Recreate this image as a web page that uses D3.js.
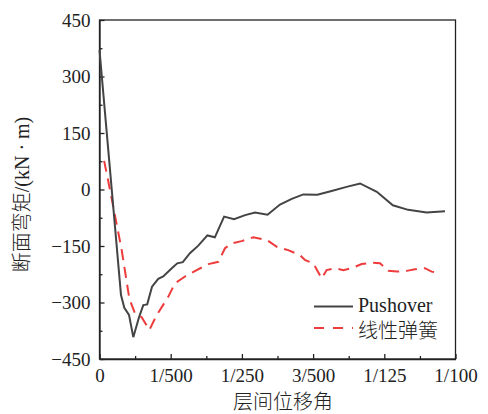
<!DOCTYPE html>
<html><head><meta charset="utf-8">
<script src="https://cdn.jsdelivr.net/npm/d3@7"></script>
<style>body{margin:0;background:#fff}svg text{font-family:"Liberation Serif","Noto Sans CJK SC",serif;fill:#222}</style>
</head><body><svg id="c" width="488" height="414"></svg>
<script>
const pushX = [0, 0.000604, 0.000697, 0.000829, 0.000949, 0.00111, 0.00123, 0.00134, 0.001475, 0.00165, 0.00179, 0.00203, 0.002185, 0.00234, 0.00254, 0.002775, 0.00303, 0.00324, 0.0035, 0.00378, 0.00409, 0.00437, 0.00472, 0.00507, 0.0054, 0.005725, 0.00612, 0.00652, 0.00694, 0.00732, 0.00779, 0.00824, 0.00867, 0.00919, 0.009705];
const pushY = [370, -280, -314, -333, -392, -339, -307, -305, -258, -237, -231, -209, -196, -193, -169, -149, -122, -127, -72, -79, -68, -61, -67, -40, -25, -13, -14, -4, 7, 16, -6, -42, -54, -61, -58];
const springX = [0.00013, 0.000295, 0.000624, 0.000837, 0.000997, 0.001185, 0.0014, 0.00161, 0.00193, 0.00212, 0.0024, 0.00273, 0.00306, 0.00334, 0.003525, 0.00371, 0.00399, 0.00432, 0.0047, 0.00498, 0.0053, 0.00563, 0.00577, 0.006006, 0.00624, 0.00638, 0.00661, 0.00685, 0.00708, 0.007365, 0.007646, 0.00788, 0.00811, 0.00835, 0.00863, 0.00886, 0.00914, 0.00933, 0.009545];
const springY = [76, -1, -161, -289, -329, -339, -373, -333, -285, -249, -231, -214, -198, -192, -156, -143, -137, -127, -134, -152, -161, -174, -187, -196, -236, -214, -209, -214, -209, -198, -194, -196, -216, -218, -216, -212, -209, -218, -222];
const xTicks = [0, 0.002, 0.004, 0.006, 0.008, 0.01];
const xTickLabels = ["0", "1/500", "1/250", "3/500", "1/125", "1/100"];
const yTicks = [-450, -300, -150, 0, 150, 300, 450];
const seriesNames = ["Pushover", "线性弹簧"];

const L = 99.5, R = 455.5, T = 20, B = 359;
const svg = d3.select("#c");
const x = d3.scaleLinear().domain([0, 0.01]).range([L, R]);
const y = d3.scaleLinear().domain([-450, 450]).range([B, T]);

const xMinor = d3.range(0.001, 0.01, 0.002);
const yMinor = d3.range(-375, 450, 150);

const gx = svg.append("g").attr("transform", `translate(0,${B})`)
  .call(d3.axisBottom(x).tickValues(xTicks).tickFormat((d, i) => xTickLabels[i]).tickSizeInner(-5).tickSizeOuter(0).tickPadding(10));
gx.selectAll("text").style("font-size", "19px").style("font-family", "'Liberation Serif',serif");
svg.append("g").attr("transform", `translate(0,${B})`)
  .call(d3.axisBottom(x).tickValues(xMinor).tickFormat("").tickSizeInner(-3).tickSizeOuter(0))
  .select(".domain").remove();

const gy = svg.append("g").attr("transform", `translate(${L},0)`)
  .call(d3.axisLeft(y).tickValues(yTicks).tickFormat(d => d < 0 ? "\u2212" + Math.abs(d) : d).tickSizeInner(-5).tickSizeOuter(0).tickPadding(9));
gy.selectAll("text").style("font-size", "19px").style("font-family", "'Liberation Serif',serif");
svg.append("g").attr("transform", `translate(${L},0)`)
  .call(d3.axisLeft(y).tickValues(yMinor).tickFormat("").tickSizeInner(-3).tickSizeOuter(0))
  .select(".domain").remove();

svg.selectAll(".domain, .tick line").attr("stroke", "#222").attr("stroke-width", 1.3);

svg.append("rect").attr("x", L).attr("y", T).attr("width", R - L).attr("height", B - T)
  .attr("fill", "none").attr("stroke", "#222").attr("stroke-width", 1.3);

const line = d3.line().x(d => x(d[0])).y(d => y(d[1]));
svg.append("path").datum(springX.map((v, i) => [v, springY[i]]))
  .attr("d", line).attr("fill", "none").attr("stroke", "#ee3b3b").attr("stroke-width", 2)
  .attr("stroke-dasharray", "11,7");
svg.append("path").datum(pushX.map((v, i) => [v, pushY[i]]))
  .attr("d", line).attr("fill", "none").attr("stroke", "#444").attr("stroke-width", 2);

// legend
const lg = svg.append("g");
lg.append("line").attr("x1", 314).attr("x2", 353).attr("y1", 306.5).attr("y2", 306.5).attr("stroke", "#444").attr("stroke-width", 2);
lg.append("line").attr("x1", 314).attr("x2", 353).attr("y1", 328).attr("y2", 328).attr("stroke", "#ee3b3b").attr("stroke-width", 2).attr("stroke-dasharray", "10,9");
lg.append("text").attr("x", 358).attr("y", 312).style("font-size", "20px").text(seriesNames[0]);
lg.append("text").attr("x", 358).attr("y", 338).style("font-size", "20px").style("font-weight", 300).text(seriesNames[1]);

// axis titles
svg.append("text").attr("x", 283).attr("y", 409).attr("text-anchor", "middle")
  .style("font-size", "20px").style("font-weight", 300).text("层间位移角");
svg.append("text").attr("transform", `translate(29,${(T + B) / 2 + 5}) rotate(-90)`).attr("text-anchor", "middle")
  .style("font-size", "20px").style("font-weight", 300)
  .text("断面弯矩/(kN · m)");
</script></body></html>
